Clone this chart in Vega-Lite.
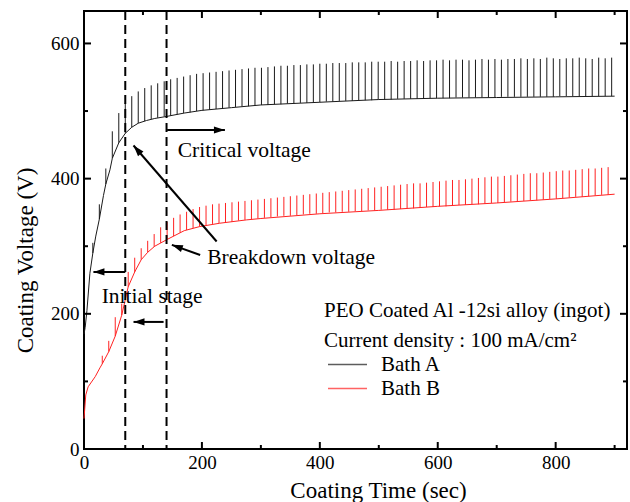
{
"$schema": "https://vega.github.io/schema/vega-lite/v6.json",
"autosize": "none",
"padding": {"left": 84, "top": 11, "right": 3, "bottom": 53},
"width": 543,
"height": 438,
"datasets": {
"base": [
{"s":"Bath A","t":0,"v":170},{"s":"Bath A","t":2,"v":180},{"s":"Bath A","t":5,"v":205},{"s":"Bath A","t":10,"v":260},{"s":"Bath A","t":15,"v":290},{"s":"Bath A","t":20,"v":315},{"s":"Bath A","t":26,"v":340},{"s":"Bath A","t":33,"v":375},{"s":"Bath A","t":37,"v":392},{"s":"Bath A","t":44,"v":413},{"s":"Bath A","t":48,"v":430},{"s":"Bath A","t":59,"v":453},{"s":"Bath A","t":70,"v":467},{"s":"Bath A","t":81,"v":476},{"s":"Bath A","t":92,"v":482},{"s":"Bath A","t":106,"v":486},{"s":"Bath A","t":120,"v":489},{"s":"Bath A","t":140,"v":492},{"s":"Bath A","t":170,"v":497},{"s":"Bath A","t":200,"v":501},{"s":"Bath A","t":250,"v":505},{"s":"Bath A","t":300,"v":509},{"s":"Bath A","t":400,"v":513},{"s":"Bath A","t":500,"v":517},{"s":"Bath A","t":600,"v":519},{"s":"Bath A","t":700,"v":520},{"s":"Bath A","t":800,"v":521},{"s":"Bath A","t":900,"v":522},
{"s":"Bath B","t":0,"v":45},{"s":"Bath B","t":3,"v":80},{"s":"Bath B","t":7,"v":92},{"s":"Bath B","t":19,"v":107},{"s":"Bath B","t":27,"v":120},{"s":"Bath B","t":31,"v":126},{"s":"Bath B","t":42,"v":144},{"s":"Bath B","t":53,"v":167},{"s":"Bath B","t":64,"v":198},{"s":"Bath B","t":75,"v":240},{"s":"Bath B","t":86,"v":262},{"s":"Bath B","t":97,"v":280},{"s":"Bath B","t":108,"v":291},{"s":"Bath B","t":120,"v":300},{"s":"Bath B","t":141,"v":310},{"s":"Bath B","t":170,"v":323},{"s":"Bath B","t":196,"v":329},{"s":"Bath B","t":230,"v":334},{"s":"Bath B","t":276,"v":339},{"s":"Bath B","t":300,"v":341},{"s":"Bath B","t":400,"v":348},{"s":"Bath B","t":500,"v":353},{"s":"Bath B","t":600,"v":359},{"s":"Bath B","t":700,"v":364},{"s":"Bath B","t":800,"v":370},{"s":"Bath B","t":900,"v":377}
],
"spikes": [
{"s":"Bath A","t":15,"b":290,"p":305},{"s":"Bath A","t":26,"b":340,"p":362},{"s":"Bath A","t":37,"b":392,"p":415},{"s":"Bath A","t":48,"b":430,"p":470},{"s":"Bath A","t":59,"b":453,"p":497},{"s":"Bath A","t":70,"b":467,"p":512},{"s":"Bath A","t":81,"b":476,"p":522},{"s":"Bath A","t":92,"b":482,"p":529},{"s":"Bath A","t":103,"b":485,"p":534},{"s":"Bath A","t":114,"b":488,"p":538},
{"s":"Bath A","t":125,"b":490,"p":541},{"s":"Bath A","t":136,"b":492,"p":544},{"s":"Bath A","t":147,"b":493,"p":547},{"s":"Bath A","t":158,"b":495,"p":549},{"s":"Bath A","t":169,"b":497,"p":551},{"s":"Bath A","t":180,"b":498,"p":553},{"s":"Bath A","t":191,"b":500,"p":555},{"s":"Bath A","t":202,"b":501,"p":556},{"s":"Bath A","t":213,"b":502,"p":557},{"s":"Bath A","t":224,"b":503,"p":558},
{"s":"Bath A","t":235,"b":504,"p":559},{"s":"Bath A","t":246,"b":505,"p":560},{"s":"Bath A","t":257,"b":506,"p":561},{"s":"Bath A","t":268,"b":507,"p":562},{"s":"Bath A","t":279,"b":507,"p":563},{"s":"Bath A","t":290,"b":508,"p":564},{"s":"Bath A","t":301,"b":509,"p":564},{"s":"Bath A","t":312,"b":509,"p":565},{"s":"Bath A","t":323,"b":510,"p":566},{"s":"Bath A","t":334,"b":510,"p":567},
{"s":"Bath A","t":345,"b":511,"p":567},{"s":"Bath A","t":356,"b":511,"p":568},{"s":"Bath A","t":367,"b":512,"p":568},{"s":"Bath A","t":378,"b":512,"p":569},{"s":"Bath A","t":389,"b":513,"p":569},{"s":"Bath A","t":400,"b":513,"p":570},{"s":"Bath A","t":411,"b":514,"p":570},{"s":"Bath A","t":422,"b":514,"p":571},{"s":"Bath A","t":433,"b":515,"p":571},{"s":"Bath A","t":444,"b":515,"p":571},
{"s":"Bath A","t":455,"b":515,"p":572},{"s":"Bath A","t":466,"b":516,"p":572},{"s":"Bath A","t":477,"b":516,"p":572},{"s":"Bath A","t":488,"b":516,"p":573},{"s":"Bath A","t":499,"b":517,"p":573},{"s":"Bath A","t":510,"b":517,"p":573},{"s":"Bath A","t":521,"b":517,"p":574},{"s":"Bath A","t":532,"b":518,"p":573},{"s":"Bath A","t":543,"b":518,"p":574},{"s":"Bath A","t":554,"b":518,"p":574},
{"s":"Bath A","t":565,"b":518,"p":575},{"s":"Bath A","t":576,"b":519,"p":574},{"s":"Bath A","t":587,"b":519,"p":575},{"s":"Bath A","t":598,"b":519,"p":575},{"s":"Bath A","t":609,"b":519,"p":576},{"s":"Bath A","t":620,"b":519,"p":575},{"s":"Bath A","t":631,"b":520,"p":576},{"s":"Bath A","t":642,"b":520,"p":576},{"s":"Bath A","t":653,"b":520,"p":575},{"s":"Bath A","t":664,"b":520,"p":576},
{"s":"Bath A","t":675,"b":520,"p":577},{"s":"Bath A","t":686,"b":520,"p":576},{"s":"Bath A","t":697,"b":520,"p":577},{"s":"Bath A","t":708,"b":521,"p":576},{"s":"Bath A","t":719,"b":521,"p":577},{"s":"Bath A","t":730,"b":521,"p":577},{"s":"Bath A","t":741,"b":521,"p":578},{"s":"Bath A","t":752,"b":521,"p":577},{"s":"Bath A","t":763,"b":521,"p":578},{"s":"Bath A","t":774,"b":521,"p":577},
{"s":"Bath A","t":785,"b":521,"p":579},{"s":"Bath A","t":796,"b":521,"p":578},{"s":"Bath A","t":807,"b":522,"p":577},{"s":"Bath A","t":818,"b":522,"p":578},{"s":"Bath A","t":829,"b":522,"p":578},{"s":"Bath A","t":840,"b":522,"p":579},{"s":"Bath A","t":851,"b":522,"p":578},{"s":"Bath A","t":862,"b":522,"p":577},{"s":"Bath A","t":873,"b":522,"p":579},{"s":"Bath A","t":884,"b":522,"p":578},{"s":"Bath A","t":895,"b":522,"p":579},
{"s":"Bath B","t":31,"b":126,"p":138},{"s":"Bath B","t":42,"b":144,"p":160},{"s":"Bath B","t":53,"b":167,"p":195},{"s":"Bath B","t":64,"b":198,"p":215},{"s":"Bath B","t":75,"b":240,"p":262},{"s":"Bath B","t":86,"b":262,"p":283},{"s":"Bath B","t":97,"b":280,"p":297},{"s":"Bath B","t":108,"b":291,"p":308},{"s":"Bath B","t":119,"b":299,"p":318},{"s":"Bath B","t":130,"b":305,"p":328},
{"s":"Bath B","t":141,"b":310,"p":336},{"s":"Bath B","t":152,"b":315,"p":342},{"s":"Bath B","t":163,"b":320,"p":347},{"s":"Bath B","t":174,"b":324,"p":351},{"s":"Bath B","t":185,"b":327,"p":355},{"s":"Bath B","t":196,"b":329,"p":358},{"s":"Bath B","t":207,"b":331,"p":360},{"s":"Bath B","t":218,"b":333,"p":362},{"s":"Bath B","t":229,"b":334,"p":363},{"s":"Bath B","t":240,"b":335,"p":364},
{"s":"Bath B","t":251,"b":336,"p":365},{"s":"Bath B","t":262,"b":338,"p":366},{"s":"Bath B","t":273,"b":339,"p":367},{"s":"Bath B","t":284,"b":340,"p":368},{"s":"Bath B","t":295,"b":341,"p":369},{"s":"Bath B","t":306,"b":342,"p":370},{"s":"Bath B","t":317,"b":343,"p":371},{"s":"Bath B","t":328,"b":344,"p":372},{"s":"Bath B","t":339,"b":345,"p":373},{"s":"Bath B","t":350,"b":345,"p":374},
{"s":"Bath B","t":361,"b":346,"p":375},{"s":"Bath B","t":372,"b":347,"p":376},{"s":"Bath B","t":383,"b":348,"p":377},{"s":"Bath B","t":394,"b":348,"p":378},{"s":"Bath B","t":405,"b":349,"p":379},{"s":"Bath B","t":416,"b":350,"p":380},{"s":"Bath B","t":427,"b":350,"p":381},{"s":"Bath B","t":438,"b":351,"p":382},{"s":"Bath B","t":449,"b":351,"p":383},{"s":"Bath B","t":460,"b":352,"p":384},
{"s":"Bath B","t":471,"b":352,"p":385},{"s":"Bath B","t":482,"b":353,"p":386},{"s":"Bath B","t":493,"b":353,"p":387},{"s":"Bath B","t":504,"b":354,"p":388},{"s":"Bath B","t":515,"b":354,"p":389},{"s":"Bath B","t":526,"b":354,"p":390},{"s":"Bath B","t":537,"b":355,"p":391},{"s":"Bath B","t":548,"b":356,"p":392},{"s":"Bath B","t":559,"b":356,"p":393},{"s":"Bath B","t":570,"b":357,"p":393},
{"s":"Bath B","t":581,"b":358,"p":394},{"s":"Bath B","t":592,"b":358,"p":395},{"s":"Bath B","t":603,"b":359,"p":396},{"s":"Bath B","t":614,"b":359,"p":397},{"s":"Bath B","t":625,"b":360,"p":398},{"s":"Bath B","t":636,"b":361,"p":398},{"s":"Bath B","t":647,"b":361,"p":399},{"s":"Bath B","t":658,"b":362,"p":400},{"s":"Bath B","t":669,"b":362,"p":401},{"s":"Bath B","t":680,"b":363,"p":402},
{"s":"Bath B","t":691,"b":364,"p":403},{"s":"Bath B","t":702,"b":364,"p":403},{"s":"Bath B","t":713,"b":365,"p":404},{"s":"Bath B","t":724,"b":366,"p":405},{"s":"Bath B","t":735,"b":366,"p":406},{"s":"Bath B","t":746,"b":367,"p":407},{"s":"Bath B","t":757,"b":368,"p":408},{"s":"Bath B","t":768,"b":368,"p":408},{"s":"Bath B","t":779,"b":369,"p":409},{"s":"Bath B","t":790,"b":370,"p":410},
{"s":"Bath B","t":801,"b":370,"p":411},{"s":"Bath B","t":812,"b":371,"p":412},{"s":"Bath B","t":823,"b":372,"p":412},{"s":"Bath B","t":834,"b":373,"p":413},{"s":"Bath B","t":845,"b":373,"p":414},{"s":"Bath B","t":856,"b":374,"p":415},{"s":"Bath B","t":867,"b":375,"p":415},{"s":"Bath B","t":878,"b":376,"p":416},{"s":"Bath B","t":889,"b":376,"p":417}
],
"vlines": [{"t":70},{"t":140}],
"xmajor": [{"t":0},{"t":200},{"t":400},{"t":600},{"t":800}],
"xminor": [{"t":100},{"t":300},{"t":500},{"t":700},{"t":900}],
"ymajor": [{"v":0},{"v":200},{"v":400},{"v":600}],
"yminor": [{"v":100},{"v":300},{"v":500}],
"arrows": [
{"t1":141,"v1":472,"t2":239,"v2":472,"dir":"right"},
{"t1":225,"v1":307,"t2":84,"v2":449,"dir":"upleft"},
{"t1":197,"v1":287,"t2":149,"v2":302,"dir":"leftup"},
{"t1":70,"v1":262,"t2":16,"v2":262,"dir":"left"},
{"t1":135,"v1":188,"t2":84,"v2":188,"dir":"left"}
],
"notes": [
{"t":159,"v":441,"label":"Critical voltage"},
{"t":209,"v":282,"label":"Breakdown voltage"},
{"t":30,"v":225,"label":"Initial stage"}
]
},
"layer": [
{
"data": {"name": "base"},
"mark": {"type": "line", "strokeWidth": 1},
"encoding": {
"x": {"field": "t", "type": "quantitative", "scale": {"domain": [0, 921], "nice": false, "zero": false},
"axis": {"orient": "bottom", "title": "Coating Time (sec)", "values": [0,200,400,600,800], "ticks": false, "labelFlush": false, "labelPadding": 4, "titleX": 294, "titleY": 41, "titleBaseline": "middle", "titleAnchor": null}},
"y": {"field": "v", "type": "quantitative", "scale": {"domain": [0, 648], "nice": false, "zero": false},
"axis": {"orient": "left", "title": "Coating Voltage (V)", "values": [0,200,400,600], "ticks": false, "labelFlush": false, "labelPadding": 5, "titleX": -59, "titleY": 249, "titleBaseline": "middle", "titleAnchor": null}},
"color": {"field": "s", "type": "nominal",
"scale": {"domain": ["Bath A", "Bath B"], "range": ["#1a1a1a", "#ff2222"]},
"legend": {"orient": "none", "legendX": 240, "legendY": 289,
"title": ["PEO Coated Al -12si alloy (ingot)", "Current density : 100 mA/cm²"],
"titleFont": "Liberation Serif", "titleFontSize": 21, "titleFontWeight": "normal", "titleColor": "black", "titleLineHeight": 30, "titlePadding": 3, "titleLimit": 500,
"labelFont": "Liberation Serif", "labelFontSize": 21, "labelColor": "black", "labelOffset": 36, "labelLimit": 300,
"symbolType": "M-1,0H5", "symbolSize": 169, "symbolStrokeWidth": 1.5, "symbolOpacity": 0.7, "rowPadding": 2}}
}
},
{
"data": {"name": "spikes"},
"mark": {"type": "rule", "strokeWidth": 1},
"encoding": {
"x": {"field": "t", "type": "quantitative", "axis": null},
"y": {"field": "b", "type": "quantitative", "axis": null},
"y2": {"field": "p"},
"color": {"field": "s", "type": "nominal", "legend": null}
}
},
{
"data": {"name": "vlines"},
"mark": {"type": "rule", "color": "black", "strokeWidth": 2, "strokeDash": [9, 5]},
"encoding": {
"x": {"field": "t", "type": "quantitative", "axis": null}
}
},
{
"data": {"name": "xmajor"},
"mark": {"type": "tick", "orient": "vertical", "size": 7, "thickness": 2, "color": "black", "opacity": 1, "yOffset": -3.5},
"encoding": {"x": {"field": "t", "type": "quantitative", "axis": null}, "y": {"datum": 0, "type": "quantitative", "axis": null}}
},
{
"data": {"name": "xmajor"},
"mark": {"type": "tick", "orient": "vertical", "size": 7, "thickness": 2, "color": "black", "opacity": 1, "yOffset": 3.5},
"encoding": {"x": {"field": "t", "type": "quantitative", "axis": null}, "y": {"datum": 648, "type": "quantitative", "axis": null}}
},
{
"data": {"name": "xminor"},
"mark": {"type": "tick", "orient": "vertical", "size": 4, "thickness": 2, "color": "black", "opacity": 1, "yOffset": -2},
"encoding": {"x": {"field": "t", "type": "quantitative", "axis": null}, "y": {"datum": 0, "type": "quantitative", "axis": null}}
},
{
"data": {"name": "xminor"},
"mark": {"type": "tick", "orient": "vertical", "size": 4, "thickness": 2, "color": "black", "opacity": 1, "yOffset": 2},
"encoding": {"x": {"field": "t", "type": "quantitative", "axis": null}, "y": {"datum": 648, "type": "quantitative", "axis": null}}
},
{
"data": {"name": "ymajor"},
"mark": {"type": "tick", "orient": "horizontal", "size": 7, "thickness": 2, "color": "black", "opacity": 1, "xOffset": 3.5},
"encoding": {"y": {"field": "v", "type": "quantitative", "axis": null}, "x": {"datum": 0, "type": "quantitative", "axis": null}}
},
{
"data": {"name": "ymajor"},
"mark": {"type": "tick", "orient": "horizontal", "size": 7, "thickness": 2, "color": "black", "opacity": 1, "xOffset": -3.5},
"encoding": {"y": {"field": "v", "type": "quantitative", "axis": null}, "x": {"datum": 921, "type": "quantitative", "axis": null}}
},
{
"data": {"name": "yminor"},
"mark": {"type": "tick", "orient": "horizontal", "size": 4, "thickness": 2, "color": "black", "opacity": 1, "xOffset": 2},
"encoding": {"y": {"field": "v", "type": "quantitative", "axis": null}, "x": {"datum": 0, "type": "quantitative", "axis": null}}
},
{
"data": {"name": "yminor"},
"mark": {"type": "tick", "orient": "horizontal", "size": 4, "thickness": 2, "color": "black", "opacity": 1, "xOffset": -2},
"encoding": {"y": {"field": "v", "type": "quantitative", "axis": null}, "x": {"datum": 921, "type": "quantitative", "axis": null}}
},
{
"data": {"name": "arrows"},
"mark": {"type": "rule", "color": "black", "strokeWidth": 2},
"encoding": {
"x": {"field": "t1", "type": "quantitative", "axis": null},
"y": {"field": "v1", "type": "quantitative", "axis": null},
"x2": {"field": "t2"},
"y2": {"field": "v2"}
}
},
{
"data": {"name": "arrows"},
"transform": [{"filter": "datum.dir === 'right'"}],
"mark": {"type": "point", "filled": true, "color": "black", "opacity": 1, "size": 121, "angle": 90, "shape": "M0,0L0.65,2L-0.65,2Z"},
"encoding": {"x": {"field": "t2", "type": "quantitative", "axis": null}, "y": {"field": "v2", "type": "quantitative", "axis": null}}
},
{
"data": {"name": "arrows"},
"transform": [{"filter": "datum.dir === 'left'"}],
"mark": {"type": "point", "filled": true, "color": "black", "opacity": 1, "size": 121, "angle": 270, "shape": "M0,0L0.65,2L-0.65,2Z"},
"encoding": {"x": {"field": "t2", "type": "quantitative", "axis": null}, "y": {"field": "v2", "type": "quantitative", "axis": null}}
},
{
"data": {"name": "arrows"},
"transform": [{"filter": "datum.dir === 'upleft'"}],
"mark": {"type": "point", "filled": true, "color": "black", "opacity": 1, "size": 121, "angle": 319, "shape": "M0,0L0.65,2L-0.65,2Z"},
"encoding": {"x": {"field": "t2", "type": "quantitative", "axis": null}, "y": {"field": "v2", "type": "quantitative", "axis": null}}
},
{
"data": {"name": "arrows"},
"transform": [{"filter": "datum.dir === 'leftup'"}],
"mark": {"type": "point", "filled": true, "color": "black", "opacity": 1, "size": 121, "angle": 290, "shape": "M0,0L0.65,2L-0.65,2Z"},
"encoding": {"x": {"field": "t2", "type": "quantitative", "axis": null}, "y": {"field": "v2", "type": "quantitative", "axis": null}}
},
{
"data": {"name": "notes"},
"mark": {"type": "text", "align": "left", "baseline": "middle", "font": "Liberation Serif", "fontSize": 21.5, "color": "black"},
"encoding": {
"x": {"field": "t", "type": "quantitative", "axis": null},
"y": {"field": "v", "type": "quantitative", "axis": null},
"text": {"field": "label"}
}
}
],
"resolve": {"axis": {"x": "independent", "y": "independent"}},
"config": {
"background": "white",
"font": "Liberation Serif",
"view": {"stroke": "black", "strokeWidth": 2},
"axis": {"domain": false, "grid": false,
"labelFont": "Liberation Serif", "labelFontSize": 19, "labelColor": "black",
"titleFont": "Liberation Serif", "titleFontSize": 23, "titleFontWeight": "normal", "titleColor": "black"}
}
}
